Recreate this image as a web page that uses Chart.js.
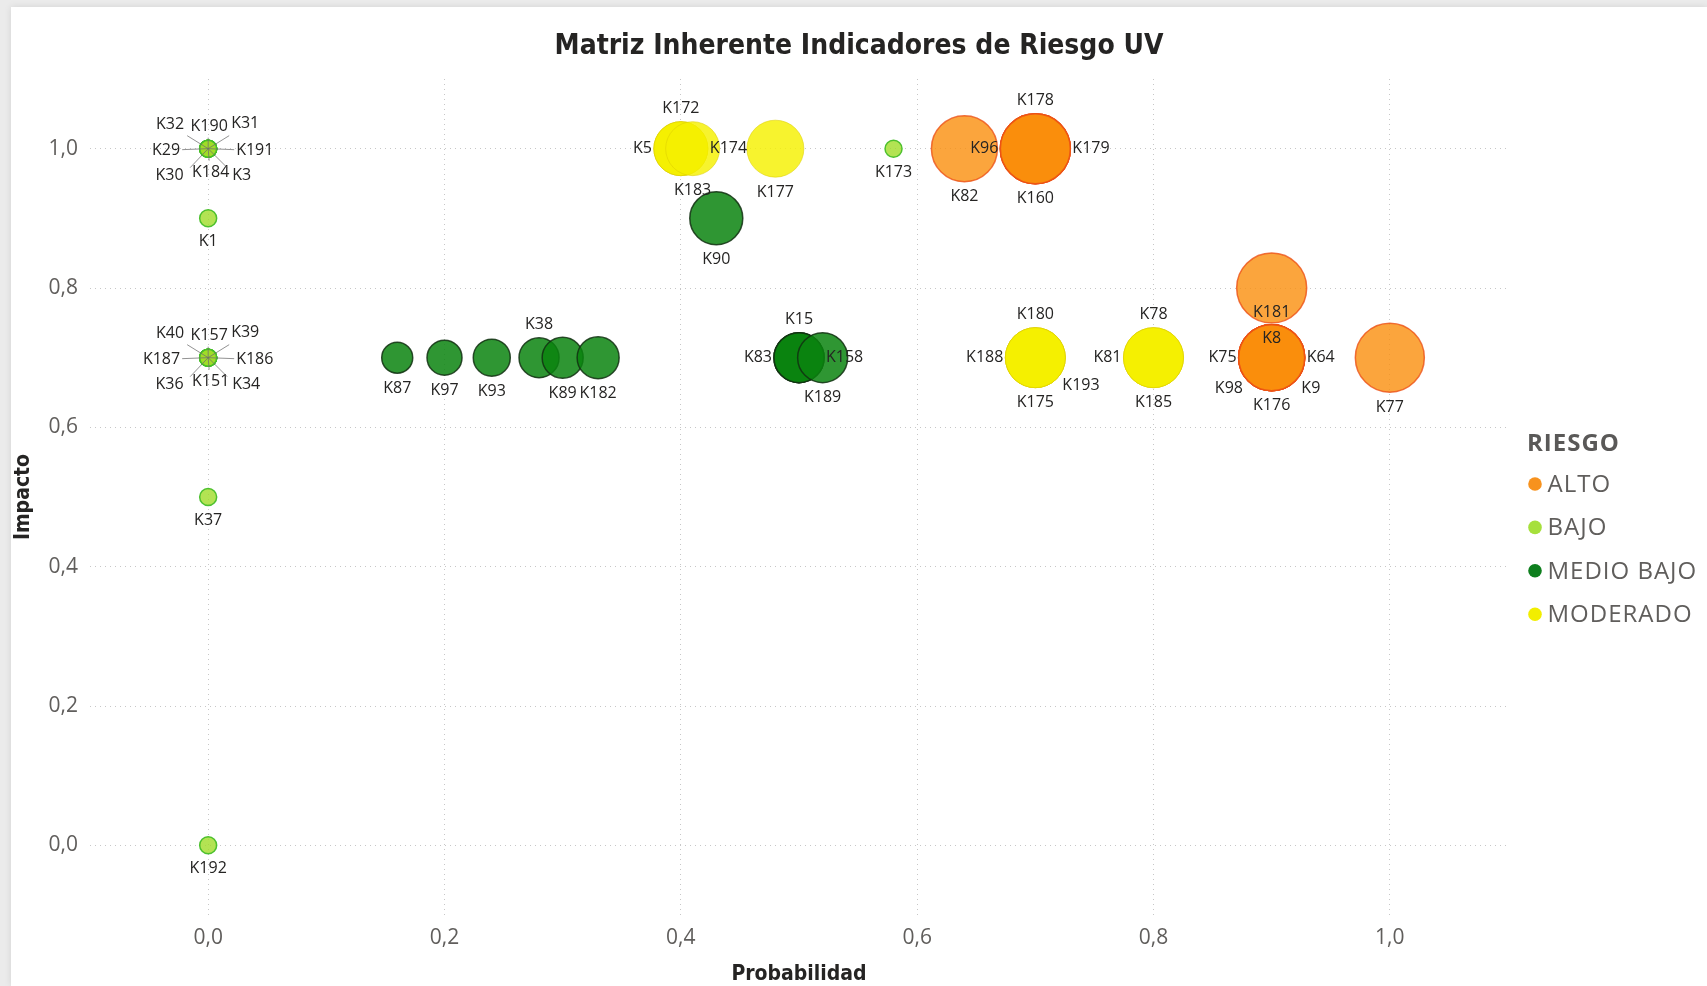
<!DOCTYPE html>
<html><head><meta charset="utf-8">
<script src="https://cdn.jsdelivr.net/npm/chart.js@4.4.1/dist/chart.umd.min.js"></script>
<style>
html,body{margin:0;padding:0;width:1707px;height:986px;overflow:hidden;background:#ebebeb;}
#panel{position:absolute;left:11px;top:7px;width:1696px;height:979px;background:#fff;box-shadow:0 0 7px rgba(0,0,0,0.10);}
#c{position:absolute;left:0;top:0;}
</style></head><body>
<div id="panel"></div>
<canvas id="c" width="1707" height="986" style="width:1707px;height:986px"></canvas>
<script>
// ---- Data ----
const chartTitle = 'Matriz Inherente Indicadores de Riesgo UV';
const xAxisTitle = 'Probabilidad';
const yAxisTitle = 'Impacto';
const legendTitle = 'RIESGO';
const categories = ['ALTO', 'BAJO', 'MEDIO BAJO', 'MODERADO'];
const xTickValues = [0, 0.2, 0.4, 0.6, 0.8, 1.0];
const yTickValues = [0, 0.2, 0.4, 0.6, 0.8, 1.0];

const altoNames  = ['K82','K178','K96','K179','K160','K181','K8','K75','K64','K98','K9','K176','K77'];
const altoProb   = [0.64, 0.70, 0.70, 0.70, 0.70, 0.90, 0.90, 0.90, 0.90, 0.90, 0.90, 0.90, 1.00];
const altoImpact = [1.0, 1.0, 1.0, 1.0, 1.0, 0.8, 0.7, 0.7, 0.7, 0.7, 0.7, 0.7, 0.7];
const altoSize   = [33, 35, 35, 35, 35, 35, 33, 33, 33, 33, 33, 33, 34.5];

const bajoNames  = ['K32','K190','K31','K29','K191','K30','K184','K3','K1','K40','K157','K39','K187','K186','K36','K151','K34','K37','K192','K173'];
const bajoProb   = [0, 0, 0, 0, 0, 0, 0, 0, 0, 0, 0, 0, 0, 0, 0, 0, 0, 0, 0, 0.58];
const bajoImpact = [1.0, 1.0, 1.0, 1.0, 1.0, 1.0, 1.0, 1.0, 0.9, 0.7, 0.7, 0.7, 0.7, 0.7, 0.7, 0.7, 0.7, 0.5, 0.0, 1.0];
const bajoSize   = [8.5, 8.5, 8.5, 8.5, 8.5, 8.5, 8.5, 8.5, 8.5, 8.5, 8.5, 8.5, 8.5, 8.5, 8.5, 8.5, 8.5, 8.5, 8.5, 8.5];

const medioNames  = ['K87','K97','K93','K38','K89','K182','K90','K15','K83','K158','K189'];
const medioProb   = [0.16, 0.20, 0.24, 0.28, 0.30, 0.33, 0.43, 0.50, 0.50, 0.50, 0.52];
const medioImpact = [0.7, 0.7, 0.7, 0.7, 0.7, 0.7, 0.9, 0.7, 0.7, 0.7, 0.7];
const medioSize   = [15.5, 17.5, 18.5, 20, 20.5, 21, 26.5, 25, 25, 25, 25];

const moderadoNames  = ['K172','K5','K174','K183','K177','K180','K188','K175','K193','K78','K81','K185'];
const moderadoProb   = [0.40, 0.40, 0.40, 0.41, 0.48, 0.70, 0.70, 0.70, 0.70, 0.80, 0.80, 0.80];
const moderadoImpact = [1.0, 1.0, 1.0, 1.0, 1.0, 0.7, 0.7, 0.7, 0.7, 0.7, 0.7, 0.7];
const moderadoSize   = [27, 27, 27, 27, 28.5, 30, 30, 30, 30, 30, 30, 30];

// ---- Styles ----
const fills   = ['rgba(250,142,12,0.80)', 'rgba(160,220,40,0.80)', 'rgba(10,132,15,0.85)', 'rgba(245,240,0,0.82)'];
const borders = ['rgba(236,80,20,0.8)', 'rgba(70,190,40,0.95)', 'rgba(18,48,18,0.85)', 'rgba(220,205,0,0.55)'];
const legendColors = ['#f7921e', '#a6e03c', '#0e7f1e', '#f2ee00'];

// label placement around each bubble
const labelPlacement = {
  K32:'sTL', K190:'sT', K31:'sTR', K29:'sL', K191:'sR', K30:'sBL', K184:'sB', K3:'sBR',
  K40:'sTL', K157:'sT', K39:'sTR', K187:'sL', K186:'sR', K36:'sBL', K151:'sB', K34:'sBR',
  K38:'T', K15:'T', K83:'L', K158:'R',
  K172:'T', K5:'L', K174:'R',
  K180:'T', K188:'L', K175:'B', K193:'BR',
  K78:'T', K81:'L', K185:'B',
  K178:'T', K96:'L', K179:'R', K160:'B',
  K181:'BI', K8:'TI', K75:'L', K64:'R', K98:'BL', K9:'BR', K176:'B'
};
const spider = {
  sTL: {t:[-24,-24,'right'],  l:[-21,-13]},
  sT:  {t:[1,-22.5,'center'], l:[0,-11]},
  sTR: {t:[23,-25,'left'],    l:[21,-13]},
  sL:  {t:[-28,1.5,'right'],  l:[-26,1]},
  sR:  {t:[28,1.5,'left'],    l:[26,1]},
  sBL: {t:[-24.5,27,'right'], l:[-18,19]},
  sB:  {t:[2.5,24,'center'],  l:[1,12]},
  sBR: {t:[24,27,'left'],     l:[19,19]}
};

function build(names, xs, ys, rs) {
  return names.map((n, i) => ({x: xs[i], y: ys[i], r: rs[i], name: n}));
}
const seriesData = [
  build(altoNames, altoProb, altoImpact, altoSize),
  build(bajoNames, bajoProb, bajoImpact, bajoSize),
  build(medioNames, medioProb, medioImpact, medioSize),
  build(moderadoNames, moderadoProb, moderadoImpact, moderadoSize)
];
const fmt = v => Number(v).toFixed(1).replace('.', ',');

const labelPlugin = {
  id: 'bubbleLabels',
  afterDatasetsDraw(chart) {
    const ctx = chart.ctx;
    ctx.save();
    ctx.font = '16px "Open Sans"';
    ctx.fillStyle = '#252423';
    ctx.textBaseline = 'middle';
    chart.data.datasets.forEach((ds, di) => {
      const meta = chart.getDatasetMeta(di);
      meta.data.forEach((el, j) => {
        const name = ds.data[j].name;
        const pos = labelPlacement[name] || 'B';
        const r = el.options.radius;
        const x = el.x, y = el.y;
        let tx = x, ty = y, align = 'center';
        if (spider[pos]) {
          const s = spider[pos];
          ctx.strokeStyle = 'rgba(110,110,110,0.75)';
          ctx.lineWidth = 1;
          ctx.beginPath();
          ctx.moveTo(x, y);
          ctx.lineTo(x + s.l[0], y + s.l[1]);
          ctx.stroke();
          tx = x + s.t[0]; ty = y + s.t[1]; align = s.t[2];
        } else if (pos === 'T') { ty = y - r - 13; }
        else if (pos === 'B') { ty = y + r + 15; }
        else if (pos === 'L') { tx = x - r - 2; align = 'right'; }
        else if (pos === 'R') { tx = x + r + 2; align = 'left'; }
        else if (pos === 'BL') { tx = x - 0.87 * r; ty = y + 0.92 * r; align = 'right'; }
        else if (pos === 'BR') { tx = x + 0.9 * r; ty = y + 0.93 * r; align = 'left'; }
        else if (pos === 'TI') { ty = y - 0.59 * r; }
        else if (pos === 'BI') { ty = y + 0.69 * r; }
        ctx.textAlign = align;
        ctx.fillText(name, tx, ty);
      });
    });
    ctx.restore();
  }
};

const legendPlugin = {
  id: 'riesgoLegend',
  beforeInit(chart) {
    const box = {
      position: 'right', weight: 1000, fullSize: false,
      options: {},
      left: 0, top: 0, right: 0, bottom: 0, width: 0, height: 0,
      isHorizontal() { return false; },
      update(maxWidth, maxHeight) { this.width = 199; this.height = maxHeight; },
      draw() {
        const ctx = chart.ctx;
        ctx.save();
        const mid = (this.top + this.bottom) / 2;
        if ('letterSpacing' in ctx) ctx.letterSpacing = '1px';
        ctx.textBaseline = 'middle';
        ctx.textAlign = 'left';
        ctx.fillStyle = '#5a5958';
        ctx.font = 'bold 24px "Open Sans"';
        ctx.fillText(legendTitle, this.left + 19, mid - 53);
        ctx.font = '24px "Open Sans"';
        chart.data.datasets.forEach((ds, i) => {
          const yy = mid - 13 + i * 43.4;
          ctx.fillStyle = legendColors[i];
          ctx.beginPath();
          ctx.arc(this.left + 27, yy, 6.8, 0, Math.PI * 2);
          ctx.fill();
          ctx.fillStyle = '#605e5c';
          ctx.fillText(ds.label, this.left + 39.5, yy + 1);
        });
        if ('letterSpacing' in ctx) ctx.letterSpacing = '0px';
        ctx.restore();
      }
    };
    Chart.layouts.addBox(chart, box);
  }
};

new Chart(document.getElementById('c'), {
  type: 'bubble',
  data: {
    datasets: categories.map((c, i) => ({
      label: c,
      data: seriesData[i],
      backgroundColor: fills[i],
      borderColor: borders[i],
      borderWidth: i === 3 ? 1 : 1.5,
      hoverRadius: 0
    }))
  },
  options: {
    responsive: false,
    animation: false,
    events: [],
    devicePixelRatio: 1,
    layout: { padding: { left: 11, top: 7, right: 0, bottom: 0 } },
    plugins: {
      legend: { display: false },
      tooltip: { enabled: false },
      title: {
        display: true,
        text: chartTitle,
        color: '#252423',
        font: { family: '"DejaVu Sans Condensed", "DejaVu Sans", sans-serif', size: 28, weight: 'bold' },
        padding: { top: 22.5, bottom: 15.9 }
      }
    },
    scales: {
      x: {
        type: 'linear', min: -0.1, max: 1.1,
        afterBuildTicks: s => { s.ticks = xTickValues.map(v => ({ value: v })); },
        afterFit: s => { s.height = 71; },
        ticks: { callback: v => fmt(v), color: '#605e5c', padding: 10.5, font: { family: '"Open Sans"', size: 21 } },
        grid: { color: 'rgba(0,0,0,0.22)', lineWidth: 1, drawTicks: false },
        border: { display: false, dash: [1, 4] },
        title: { display: true, text: xAxisTitle, color: '#252423', padding: { top: 0, bottom: 0 },
                 font: { family: '"DejaVu Sans Condensed", "DejaVu Sans", sans-serif', size: 21, weight: 'bold', lineHeight: 1.05 } }
      },
      y: {
        type: 'linear', min: -0.1, max: 1.1,
        afterBuildTicks: s => { s.ticks = yTickValues.map(v => ({ value: v })); },
        afterFit: s => { s.width = 79; },
        ticks: { callback: v => fmt(v), color: '#605e5c', padding: 12, font: { family: '"Open Sans"', size: 21 } },
        grid: { color: 'rgba(0,0,0,0.22)', lineWidth: 1, drawTicks: false },
        border: { display: false, dash: [1, 4] },
        title: { display: true, text: yAxisTitle, color: '#252423', padding: { top: 2, bottom: 0 },
                 font: { family: '"DejaVu Sans Condensed", "DejaVu Sans", sans-serif', size: 21, weight: 'bold', lineHeight: 1.05 } }
      }
    }
  },
  plugins: [legendPlugin, labelPlugin]
});
</script></body></html>
